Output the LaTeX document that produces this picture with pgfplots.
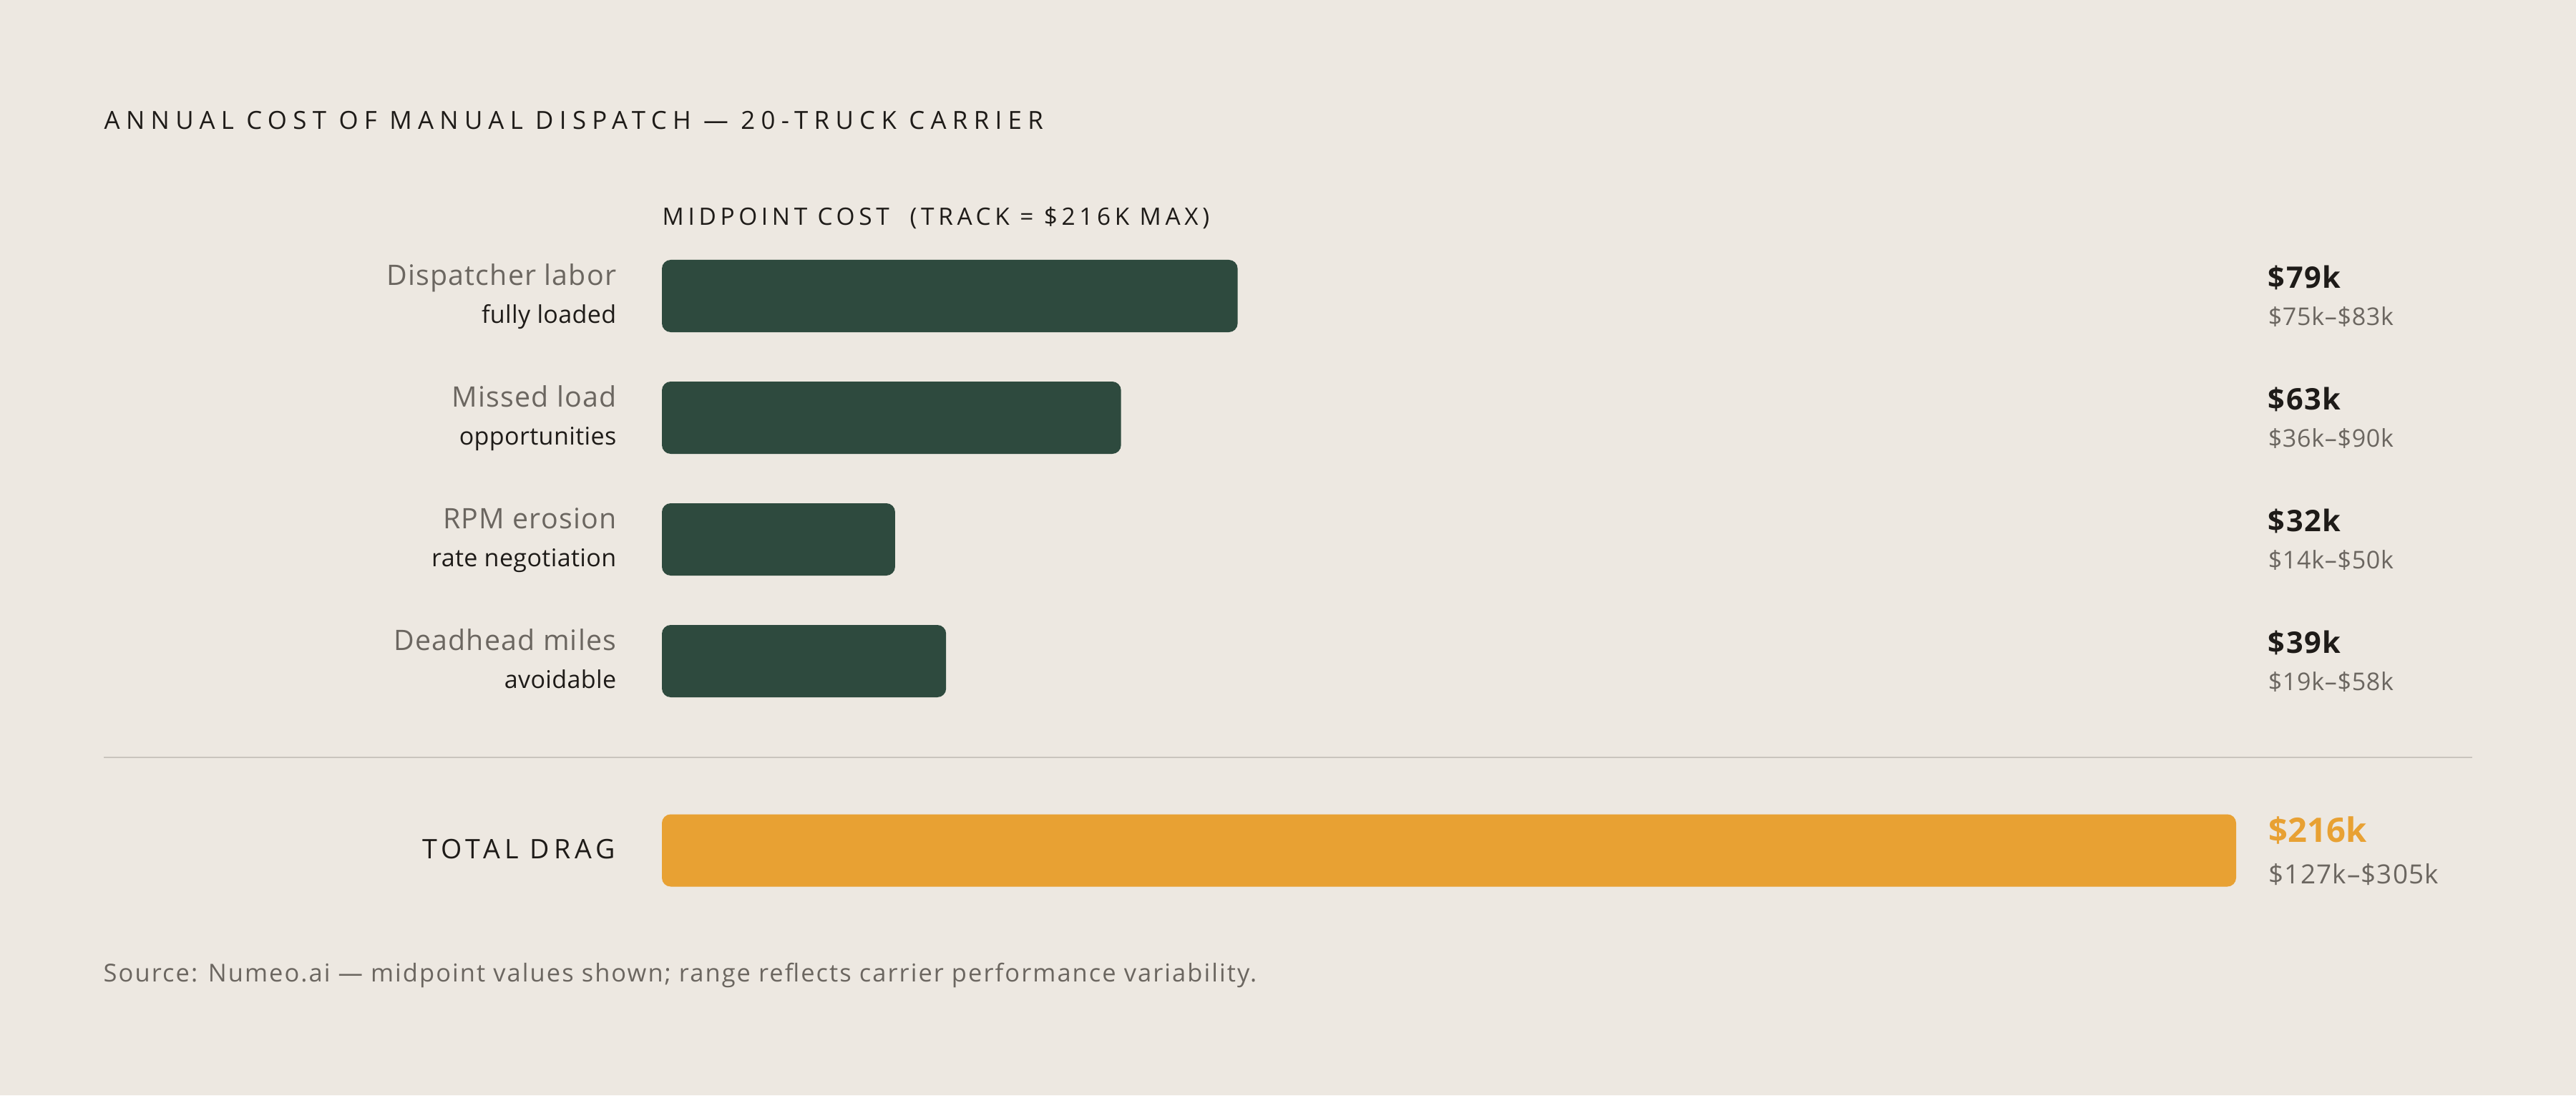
\documentclass[border=0pt]{standalone}
\usepackage{pgfplots}
\pgfplotsset{compat=1.18}
\usepackage{fontspec}
\setmainfont{Open Sans}

\definecolor{bg}{HTML}{EDE8E1}
\definecolor{bargreen}{HTML}{2E4A3E}
\definecolor{barorange}{HTML}{E8A133}
\definecolor{ink}{HTML}{1E1B18}
\definecolor{muted}{HTML}{6B6660}
\definecolor{rulegray}{HTML}{C9C4BD}

\begin{document}
\begin{tikzpicture}
% page background (36cm x 15.3cm = 3600 x 1530 px at 0.01cm per px)
\fill[bg] (0,0) rectangle (36,15.3);

\begin{axis}[
    at={(9.25cm,0cm)}, anchor=south west,
    scale only axis,
    width=22cm, height=15.3cm,
    xmin=0, xmax=216,
    ymin=0, ymax=1530,
    y dir=reverse,
    hide axis,
    clip=false,
]
  % midpoints, $k
  \addplot[xbar, bar shift=0pt, bar width=101, fill=bargreen, draw=none, rounded corners=3.5pt]
    coordinates {(79,413.5) (63,583.5) (32,753.5) (39,923.5)};
  % total
  \addplot[xbar, bar shift=0pt, bar width=101, fill=barorange, draw=none, rounded corners=3.5pt]
    coordinates {(216,1188)};
\end{axis}

% title and header
\node[anchor=base west, inner sep=0, text=ink, font=\fontsize{9.9}{12}\selectfont\addfontfeatures{LetterSpace=24}]
  at (1.45,13.49) {ANNUAL COST OF MANUAL DISPATCH — 20-TRUCK CARRIER};
\node[anchor=base west, inner sep=0, text=ink, font=\fontsize{9.5}{12}\selectfont\addfontfeatures{LetterSpace=17}]
  at (9.25,12.15) {MIDPOINT COST \ (TRACK = \$216K MAX)};

% row labels
\foreach \main/\sub [count=\k from 0] in {Dispatcher labor/fully loaded, Missed load/opportunities, RPM erosion/rate negotiation, Deadhead miles/avoidable}{
  \node[anchor=base east, inner sep=0, text=muted, font=\fontsize{11.2}{13}\selectfont\addfontfeatures{LetterSpace=3}]
    at (8.62,11.31-1.70*\k) {\main};
  \node[anchor=base east, inner sep=0, text=ink, font=\fontsize{9.7}{12}\selectfont\addfontfeatures{LetterSpace=1}]
    at (8.62,10.78-1.70*\k) {\sub};
}

% value labels
\foreach \v/\r [count=\k from 0] in {79/{\$75k–\$83k}, 63/{\$36k–\$90k}, 32/{\$14k–\$50k}, 39/{\$19k–\$58k}}{
  \node[anchor=base west, inner sep=0, text=ink, font=\fontsize{11.8}{13}\selectfont\bfseries\addfontfeatures{LetterSpace=4}]
    at (31.69,11.27-1.70*\k) {\$\v k};
  \node[anchor=base west, inner sep=0, text=muted, font=\fontsize{9.7}{12}\selectfont\addfontfeatures{LetterSpace=2}]
    at (31.69,10.75-1.70*\k) {\r};
}

% separator
\draw[rulegray, line width=0.6pt] (1.45,4.72) -- (34.55,4.72);

% total row
\node[anchor=base east, inner sep=0, text=ink, font=\fontsize{10.7}{13}\selectfont\addfontfeatures{LetterSpace=16.5}]
  at (8.61,3.30) {TOTAL DRAG};
\node[anchor=base west, inner sep=0, text=barorange, font=\fontsize{13.4}{16}\selectfont\bfseries]
  at (31.70,3.53) {\$216k};
\node[anchor=base west, inner sep=0, text=muted, font=\fontsize{10.5}{13}\selectfont\addfontfeatures{LetterSpace=3}]
  at (31.70,2.95) {\$127k–\$305k};

% source
\node[anchor=base west, inner sep=0, text=muted, font=\fontsize{9.8}{12}\selectfont\addfontfeatures{LetterSpace=6}]
  at (1.44,1.59) {Source: Numeo.ai — midpoint values shown; range reflects carrier performance variability.};
\end{tikzpicture}
\end{document}
